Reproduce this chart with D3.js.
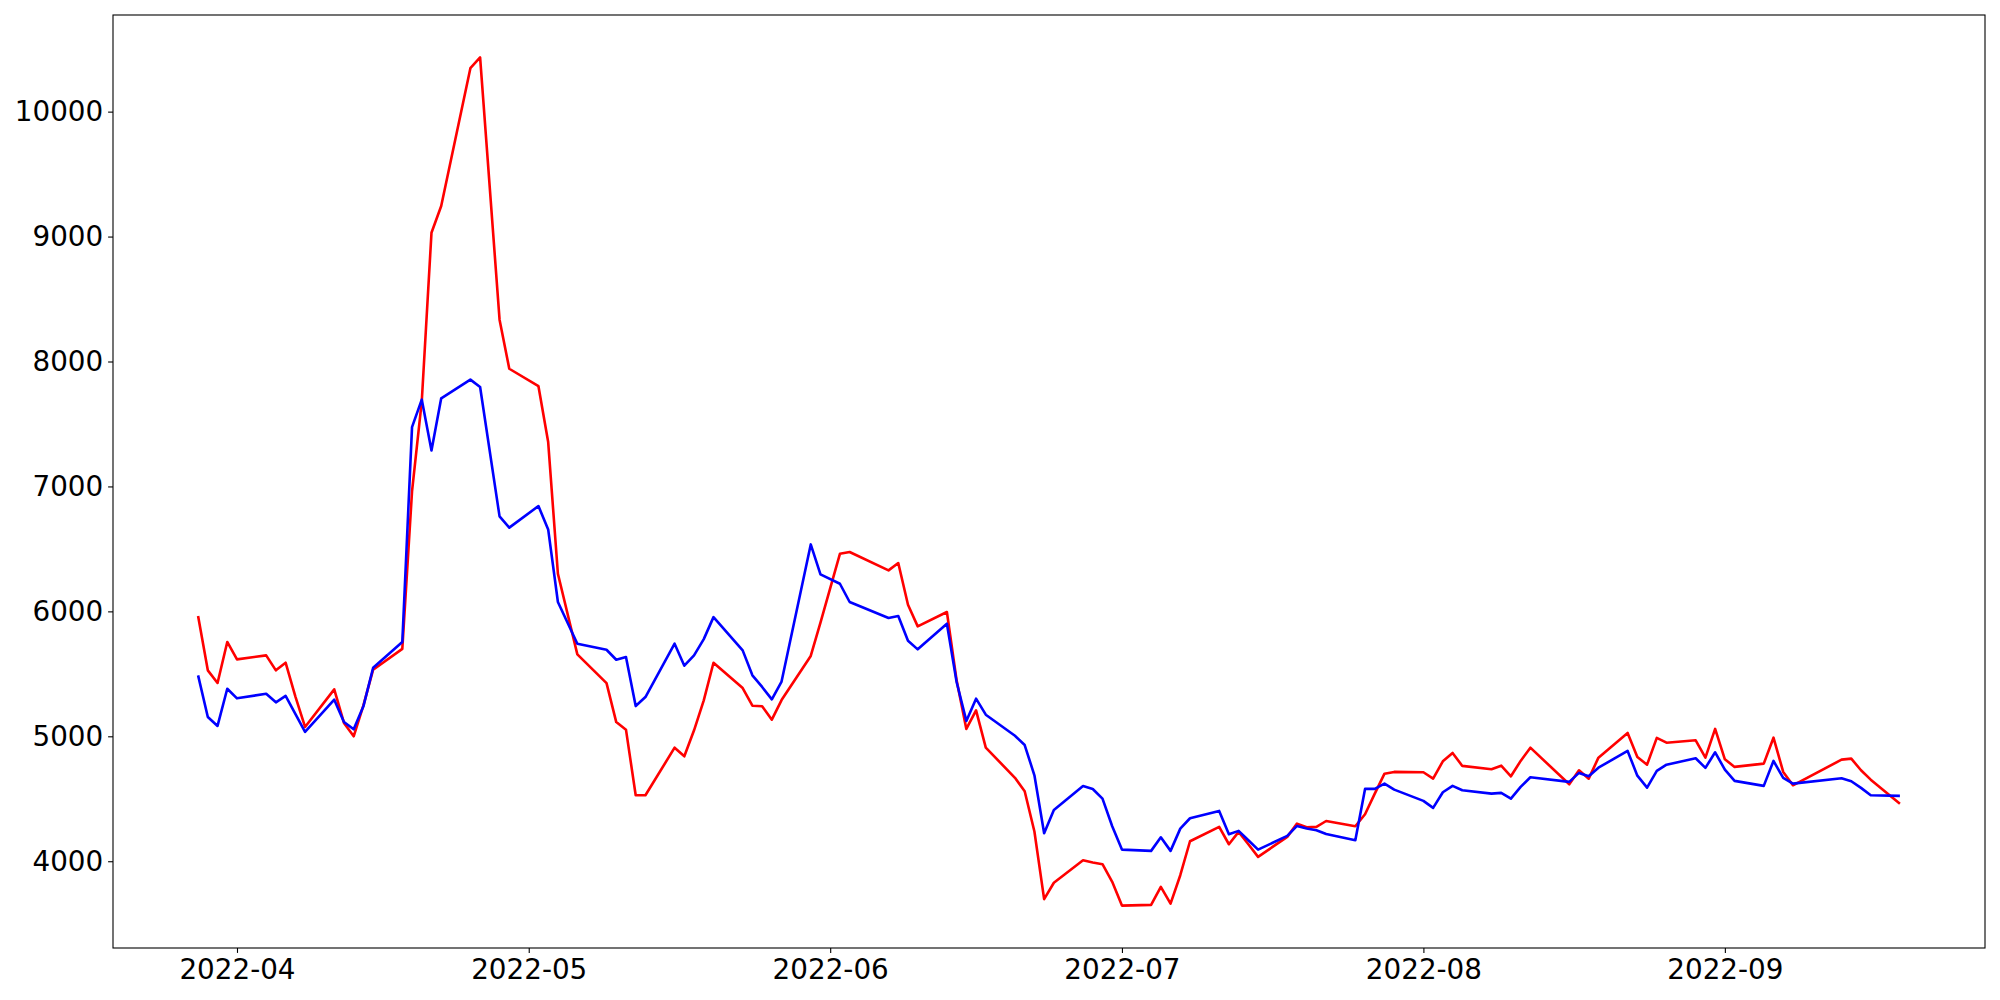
<!DOCTYPE html>
<html>
<head>
<meta charset="utf-8">
<script src="https://cdn.jsdelivr.net/npm/d3@7"></script>
<style>
  body { margin: 0; background: #fff; }
  .axis text { font-family: "DejaVu Sans", sans-serif; font-size: 27.8px; fill: #000; }
  .axis line { stroke: #000; stroke-width: 1.1; }
</style>
</head>
<body>
<svg class="chart"></svg>
<script>
// trading days
var dates = [
  "2022-03-28","2022-03-29","2022-03-30","2022-03-31","2022-04-01",
  "2022-04-04","2022-04-05","2022-04-06","2022-04-07","2022-04-08",
  "2022-04-11","2022-04-12","2022-04-13","2022-04-14","2022-04-15",
  "2022-04-18","2022-04-19","2022-04-20","2022-04-21","2022-04-22",
  "2022-04-25","2022-04-26","2022-04-28","2022-04-29",
  "2022-05-02","2022-05-03","2022-05-04","2022-05-06",
  "2022-05-09","2022-05-10","2022-05-11","2022-05-12","2022-05-13",
  "2022-05-16","2022-05-17","2022-05-18","2022-05-19","2022-05-20",
  "2022-05-23","2022-05-24","2022-05-25","2022-05-26","2022-05-27",
  "2022-05-30","2022-05-31","2022-06-02","2022-06-03",
  "2022-06-07","2022-06-08","2022-06-09","2022-06-10",
  "2022-06-13","2022-06-14","2022-06-15","2022-06-16","2022-06-17",
  "2022-06-20","2022-06-21","2022-06-22","2022-06-23","2022-06-24",
  "2022-06-27","2022-06-28","2022-06-29","2022-06-30","2022-07-01",
  "2022-07-04","2022-07-05","2022-07-06","2022-07-07","2022-07-08",
  "2022-07-11","2022-07-12","2022-07-13","2022-07-14","2022-07-15",
  "2022-07-18","2022-07-19","2022-07-20","2022-07-21","2022-07-22",
  "2022-07-25","2022-07-26","2022-07-27","2022-07-28","2022-07-29",
  "2022-08-01","2022-08-02","2022-08-03","2022-08-04","2022-08-05",
  "2022-08-08","2022-08-09","2022-08-10","2022-08-11","2022-08-12",
  "2022-08-16","2022-08-17","2022-08-18","2022-08-19",
  "2022-08-22","2022-08-23","2022-08-24","2022-08-25","2022-08-26",
  "2022-08-29","2022-08-30","2022-08-31","2022-09-01","2022-09-02",
  "2022-09-05","2022-09-06","2022-09-07","2022-09-08",
  "2022-09-13","2022-09-14","2022-09-15","2022-09-16",
  "2022-09-19"
];

var redValues = [
  5963, 5528, 5427, 5755, 5616,
  5648, 5528, 5589, 5320, 5075,
  5376, 5107, 5000, 5248, 5533,
  5700, 6960, 7680, 9030, 9245,
  10348, 10434, 8335, 7942,
  7802, 7355, 6301, 5656,
  5426, 5114, 5053, 4528, 4528,
  4909, 4840, 5048, 5288, 5589,
  5386, 5245, 5240, 5133, 5290,
  5643, 5910, 6461, 6475,
  6328, 6387, 6053, 5880,
  5995, 5448, 5059, 5208, 4909,
  4668, 4560, 4238, 3697, 3828,
  4008, 3990, 3976, 3835, 3645,
  3651, 3795, 3661, 3888, 4160,
  4275, 4136, 4235, 4136, 4035,
  4195, 4301, 4272, 4275, 4322,
  4280, 4376, 4541, 4701, 4715,
  4712, 4661, 4800, 4867, 4763,
  4736, 4765, 4680, 4803, 4909,
  4616, 4728, 4661, 4829,
  5027, 4835, 4773, 4987, 4949,
  4968, 4829, 5059, 4816, 4755,
  4781, 4989, 4715, 4608,
  4813, 4821, 4728, 4653,
  4461
];

var blueValues = [
  5488, 5155, 5083, 5381, 5304,
  5341, 5272, 5323, 5180, 5035,
  5293, 5115, 5056, 5240, 5549,
  5755, 7475, 7695, 7288, 7705,
  7855, 7796, 6760, 6670,
  6843, 6656, 6075, 5741,
  5693, 5613, 5635, 5242, 5314,
  5741, 5565, 5648, 5778, 5954,
  5688, 5488, 5395, 5296, 5438,
  6536, 6296, 6221, 6075,
  5947, 5963, 5765, 5696,
  5901, 5435, 5123, 5301, 5173,
  5004, 4930, 4688, 4224, 4410,
  4602, 4578, 4501, 4280, 4093,
  4083, 4192, 4083, 4261, 4344,
  4403, 4216, 4243, 4168, 4093,
  4203, 4283, 4262, 4248, 4218,
  4168, 4579, 4579, 4621, 4573,
  4483, 4427, 4552, 4603, 4568,
  4541, 4547, 4501, 4595, 4672,
  4635, 4707, 4680, 4749,
  4883, 4685, 4589, 4723, 4773,
  4824, 4747, 4872, 4733, 4643,
  4603, 4803, 4667, 4621,
  4664, 4640, 4587, 4528,
  4523
];

var xTicks = ["2022-04-01","2022-05-01","2022-06-01","2022-07-01","2022-08-01","2022-09-01"];
var yTicks = [4000, 5000, 6000, 7000, 8000, 9000, 10000];

var margin = {top: 15, right: 15, bottom: 52, left: 113};
var width = 2000 - margin.left - margin.right;
var height = 1000 - margin.top - margin.bottom;

var parseTime = d3.timeParse("%Y-%m-%d");
var days = dates.map(parseTime);

// matplotlib style 5% padding on both axes
var xExt = d3.extent(days);
var xPad = (xExt[1] - xExt[0]) * 0.05;
var x = d3.scaleTime()
  .domain([new Date(+xExt[0] - xPad), new Date(+xExt[1] + xPad)])
  .range([0, width]);

var yExt = d3.extent(redValues.concat(blueValues));
var yPad = (yExt[1] - yExt[0]) * 0.05;
var y = d3.scaleLinear()
  .domain([yExt[0] - yPad, yExt[1] + yPad])
  .range([height, 0]);

var svg = d3.select(".chart").attr("width", 2000).attr("height", 1000);
var chart = svg.append("g").attr("transform", "translate(" + margin.left + "," + margin.top + ")");

var line = d3.line()
  .x(function(d) { return x(d[0]); })
  .y(function(d) { return y(d[1]); });

var series = [
  {color: "#ff0000", values: redValues},
  {color: "#0000ff", values: blueValues}
];

series.forEach(function(s) {
  chart.append("path")
    .datum(days.map(function(d, i) { return [d, s.values[i]]; }))
    .attr("fill", "none")
    .attr("stroke", s.color)
    .attr("stroke-width", 2.6)
    .attr("stroke-linejoin", "round")
    .attr("d", line);
});

// x axis
var xAxis = chart.append("g")
  .attr("class", "axis")
  .attr("transform", "translate(0," + height + ")")
  .call(d3.axisBottom(x)
    .tickValues(xTicks.map(parseTime))
    .tickFormat(d3.timeFormat("%Y-%m"))
    .tickSize(4.9)
    .tickPadding(4.9));
xAxis.select(".domain").remove();
xAxis.selectAll("text").attr("dy", "0.76em");

// y axis
var yAxis = chart.append("g")
  .attr("class", "axis")
  .call(d3.axisLeft(y)
    .tickValues(yTicks)
    .tickFormat(d3.format("d"))
    .tickSize(4.9)
    .tickPadding(4.9));
yAxis.select(".domain").remove();

// frame
chart.append("rect")
  .attr("width", width)
  .attr("height", height)
  .attr("fill", "none")
  .attr("stroke", "#000")
  .attr("stroke-width", 1.1);
</script>
</body>
</html>
